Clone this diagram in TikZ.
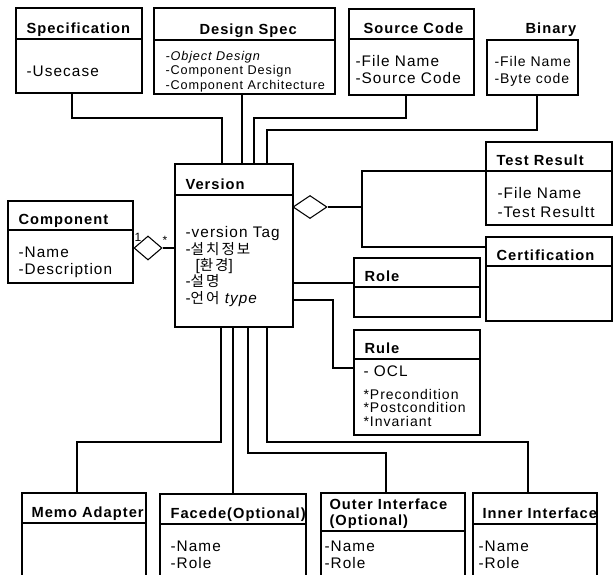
\documentclass[tikz,border=0pt]{standalone}
\usepackage{fontspec}
\setmainfont{Liberation Sans}[LetterSpace=7]
\newfontfamily\kr{Noto Sans CJK KR}[LetterSpace=14, Scale=0.95]
\usetikzlibrary{shapes.geometric, fit}
\tikzset{
    classbox/.style={draw, inner sep=0pt},
    classtitle/.style={anchor=base west, inner sep=0pt, font=\bfseries\fontsize{11}{12}\selectfont},
    classbody/.style={anchor=base west, inner sep=0pt, align=left, font=\fontsize{11.5}{12.2}\selectfont},
    % Relation Styles
    aggr/.style={diamond, draw, fill=white, inner sep=0pt},
    mult/.style={inner sep=0pt, font=\fontsize{9}{10}\selectfont},
    link/.style={line width=0.8pt}
}
% box with header line: [title offset]{name}{x1}{y1}{x2}{y2}{header y}{title}
\newcommand{\umlclass}[8][10]{%
    \node [classbox, fit={(#3,#4) (#5,#6)}] (#2) {};
    \draw (#3,#7) -- (#5,#7);
    \node [classtitle] (#2-title) at (#3+#1,#7-5.5) {#8};
}

\begin{document}
\begin{tikzpicture}[x=0.75pt, y=-0.75pt, line width=0.8pt]
    \useasboundingbox (0,0) rectangle (615,575);
    \clip (0,0) rectangle (615,575);

    % top row (body text sits on the baseline of its last line)
    \umlclass{spec}{16}{8}{142}{93}{39}{Specification}
    \umlclass[45]{dspec}{154}{8}{335}{94}{40}{Design Spec}
    \umlclass[14]{src}{349}{9}{474}{95}{39}{Source Code}
    \node [classbox, fit={(487,40) (578,95)}] (bin) {};
    \node [classtitle, anchor=base] (bin-title) at (551,33) {Binary};
    \node [classbody] (spec-body) at (26,76) {-Usecase};
    \node [classbody, font=\fontsize{9.5}{10.8}\selectfont] (dspec-body) at (165,89) {\textit{-Object Design}\\-Component Design\\-Component Architecture};
    \node [classbody] (src-body) at (355,83) {-File Name\\-Source Code};
    \node [classbody, font=\fontsize{10.5}{12.2}\selectfont] (bin-body) at (494,83) {-File Name\\-Byte code};

    % middle
    \umlclass{comp}{8}{201}{133}{283}{230}{Component}
    \umlclass{version}{175}{164}{293}{327}{195}{Version}
    \umlclass{tres}{486}{142}{612}{225}{171}{Test Result}
    \umlclass{cert}{486}{237}{612}{321}{266}{Certification}
    \umlclass{role}{354}{258}{480}{317}{287}{Role}
    \umlclass{rule}{354}{330}{480}{435}{359}{Rule}
    \node [classbody] (comp-body) at (18,274) {-Name\\-Description};
    \node [classbody] (version-body) at (185,303) {-version Tag\\-{\kr 설치정보}\\\hspace*{7.5pt}[{\kr 환경}]\\-{\kr 설명}\\-{\kr 언어} \textit{type}};
    \node [classbody, font=\fontsize{11.5}{14.2}\selectfont] (tres-body) at (497,217) {-File Name\\-Test Resultt};
    \node [classbody] (rule-ocl) at (363,376) {- OCL};
    \node [classbody, font=\fontsize{10.5}{10}\selectfont] (rule-body) at (363,426) {*Precondition\\*Postcondition\\*Invariant};

    % bottom row
    \umlclass[9]{memo}{22}{493}{146}{600}{523}{Memo Adapter}
    \umlclass{facede}{160}{494}{306}{600}{524}{Facede(Optional)}
    \umlclass[8]{outer}{321}{493}{465}{600}{531}{\begin{tabular}[b]{@{}l@{}}Outer Interface\\(Optional)\end{tabular}}
    \umlclass[9]{inner}{473}{493}{597}{600}{524}{Inner Interface}
    \node [classbody] (facede-body) at (170,568) {-Name\\-Role};
    \node [classbody] (outer-body) at (324,568) {-Name\\-Role};
    \node [classbody] (inner-body) at (478,568) {-Name\\-Role};

    % aggregations
    \node [aggr, minimum width=21pt, minimum height=18pt] (cdia) at (148,248) {};
    \node [mult] (mult-one) at (138,237) {1};
    \node [mult] (mult-many) at (165,240) {*};
    \draw [link] (cdia.east) -- (version.west |- cdia.east);
    \node [aggr, minimum width=25.5pt, minimum height=17.25pt] (vdia) at (310,207) {};
    \coordinate (branch) at (362,207);
    \draw [link] (vdia.east) -- (branch);
    \draw [link] (tres.west |- 0,171) -| (branch) |- (cert.west |- 0,247);

    % links to the right
    \draw [link] (version.east |- 0,283) -- (role.west |- 0,283);
    \draw [link] (version.east |- 0,300) -| (333,368) -- (rule.west |- 0,368);

    % links from the top
    \draw [link] (spec.south -| 72,0) |- (222,118) -- (version.north -| 222,0);
    \draw [link] (dspec.south -| 242,0) -- (version.north -| 242,0);
    \draw [link] (src.south -| 406,0) |- (254,118) -- (version.north -| 254,0);
    \draw [link] (bin.south -| 537,0) |- (267,130) -- (version.north -| 267,0);

    % links to the bottom
    \draw [link] (version.south -| 221,0) |- (77,442) -- (memo.north -| 77,0);
    \draw [link] (version.south -| 233,0) -- (facede.north -| 233,0);
    \draw [link] (version.south -| 248,0) |- (386,453) -- (outer.north -| 386,0);
    \draw [link] (version.south -| 267,0) |- (528,442) -- (inner.north -| 528,0);
\end{tikzpicture}
\end{document}
